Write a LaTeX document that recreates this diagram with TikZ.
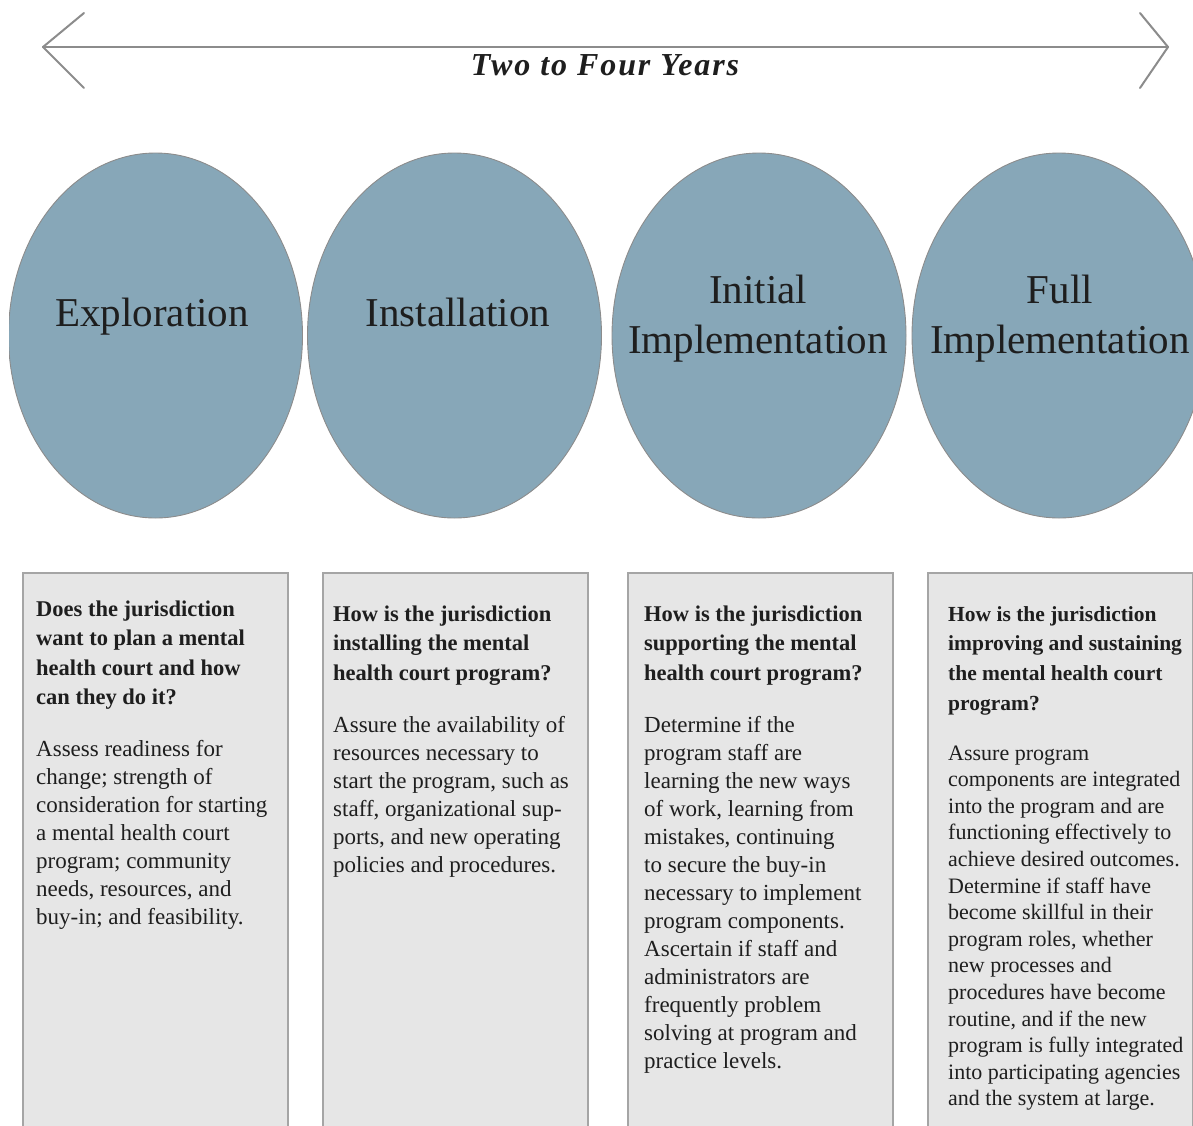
\documentclass[tikz,border=0pt]{standalone}
\usepackage{fontspec}
\setmainfont{Liberation Serif}
\usetikzlibrary{shapes.geometric}
\definecolor{phasefill}{RGB}{135,167,184}
\definecolor{phaseedge}{RGB}{140,140,140}
\definecolor{boxfill}{RGB}{230,230,230}
\definecolor{boxedge}{RGB}{165,165,165}
\definecolor{spanline}{RGB}{140,140,140}
\definecolor{ink}{RGB}{30,30,30}
\begin{document}
\begin{tikzpicture}[x=1pt,y=-1pt,
  phase/.style={ellipse, draw=phaseedge, line width=0.9pt, fill=phasefill,
    minimum width=294pt, minimum height=365pt, inner sep=0pt},
  phasetext/.style={text=ink, align=center, inner sep=0pt,
    font=\fontsize{41}{50}\selectfont},
  stagebox/.style={draw=boxedge, line width=1.5pt, fill=boxfill, anchor=north west,
    minimum width=265pt, minimum height=600pt, inner sep=0pt},
  boxtext/.style={text=ink, anchor=base west, inner sep=0pt},
  spanarrow/.style={draw=spanline, line width=2pt, line cap=round, line join=round}]
\useasboundingbox (0,0) rectangle (1193,1125);
\clip (0,0) rectangle (1193,1125);

% time span arrow
\coordinate (aL) at (43,47);
\coordinate (aR) at (1168,47);
\coordinate (aL1) at (84,13);
\coordinate (aL2) at (84,88);
\coordinate (aR1) at (1140,13);
\coordinate (aR2) at (1140,88);
\draw[spanarrow] (aL) -- (aR);
\draw[spanarrow] (aL1) -- (aL) -- (aL2);
\draw[spanarrow] (aR1) -- (aR) -- (aR2);
\node[text=ink, inner sep=0pt, anchor=base] (span) at (606,75)
  {\fontsize{32}{36}\selectfont\addfontfeature{LetterSpace=6}\textbf{\textit{Two to Four Years}}};

% phases
\begin{scope}
\clip (9,0) rectangle (1193,1125);
\node[phase] (p1) at (155.5,335.5) {};
\node[phase] (p2) at (454.5,335.5) {};
\node[phase] (p3) at (759,335.5) {};
\node[phase] (p4) at (1059,335.5) {};
\end{scope}
\node[phasetext, anchor=base] (t1) at (152,326) {Exploration};
\node[phasetext, anchor=base] (t2) at (458,326) {Installation};
\node[phasetext] (t3) at (758,319) {Initial\\Implementation};
\node[phasetext] (t4) at (1060,319) {Full\\Implementation};

% stage boxes
\node[stagebox] (b1) at (22,572) {};
\node[stagebox] (b2) at (322,572) {};
\node[stagebox] (b3) at (627,572) {};
\node[stagebox] (b4) at (927,572) {};

\node[boxtext] (q1) at (36,616) {\parbox[t]{260pt}{\fontsize{22.5}{29.6}\selectfont\bfseries
  Does the jurisdiction\\want to plan a mental\\health court and how\\can they do it?}};
\node[boxtext] (d1) at (36,756) {\parbox[t]{260pt}{\fontsize{23}{28}\selectfont
  Assess readiness for\\change; strength of\\consideration for starting\\a mental health court\\program; community\\needs, resources, and\\buy-in; and feasibility.}};

\node[boxtext] (q2) at (333,621) {\parbox[t]{260pt}{\fontsize{22.5}{29.8}\selectfont\bfseries
  How is the jurisdiction\\installing the mental\\health court program?}};
\node[boxtext] (d2) at (333,732) {\parbox[t]{260pt}{\fontsize{23}{28}\selectfont
  Assure the availability of\\resources necessary to\\start the program, such as\\staff, organizational sup-\\ports, and new operating\\policies and procedures.}};

\node[boxtext] (q3) at (644,621) {\parbox[t]{260pt}{\fontsize{22.5}{29.8}\selectfont\bfseries
  How is the jurisdiction\\supporting the mental\\health court program?}};
\node[boxtext] (d3) at (644,732) {\parbox[t]{260pt}{\fontsize{23}{28}\selectfont
  Determine if the\\program staff are\\learning the new ways\\of work, learning from\\mistakes, continuing\\to secure the buy-in\\necessary to implement\\program components.\\Ascertain if staff and\\administrators are\\frequently problem\\solving at program and\\practice levels.}};

\node[boxtext] (q4) at (948,621) {\parbox[t]{260pt}{\fontsize{21.5}{29.7}\selectfont\bfseries
  How is the jurisdiction\\improving and sustaining\\the mental health court\\program?}};
\node[boxtext] (d4) at (948,760) {\parbox[t]{260pt}{\fontsize{22}{26.6}\selectfont
  Assure program\\components are integrated\\into the program and are\\functioning effectively to\\achieve desired outcomes.\\Determine if staff have\\become skillful in their\\program roles, whether\\new processes and\\procedures have become\\routine, and if the new\\program is fully integrated\\into participating agencies\\and the system at large.}};
\end{tikzpicture}
\end{document}
